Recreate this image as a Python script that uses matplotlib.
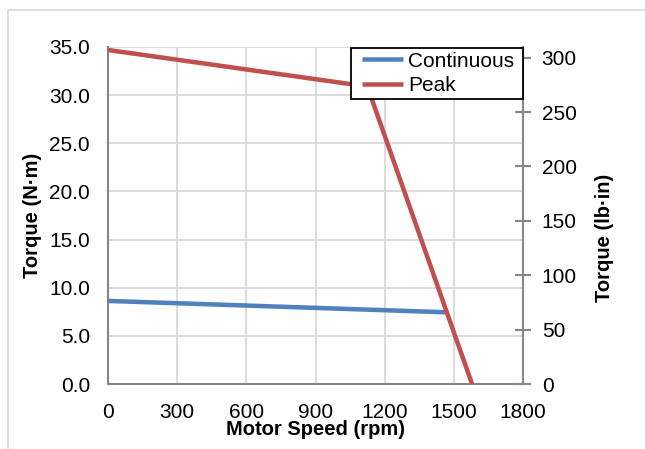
import matplotlib
matplotlib.use("Agg")
import matplotlib.pyplot as plt
from matplotlib.patches import Rectangle
from matplotlib.legend_handler import HandlerLine2D

plt.rcParams['font.family'] = ['Liberation Sans', 'DejaVu Sans']

cont_rpm = [0, 1465]
cont_torque = [8.63, 7.45]
peak_rpm = [0, 1125, 1579]
peak_torque = [34.69, 30.9, 0.0]
x_ticks = [0, 300, 600, 900, 1200, 1500, 1800]
y_ticks = [0, 5, 10, 15, 20, 25, 30, 35]
y2_ticks = [0, 50, 100, 150, 200, 250, 300]
NM_TO_LBIN = 8.8507

fig = plt.figure(figsize=(6.45, 4.49), dpi=100)
fig.patches.append(Rectangle((8/645, -0.1), 1.0, 1 - 10/449 + 0.1, transform=fig.transFigure,
                             fill=False, edgecolor='#D9D9D9', linewidth=1.2))
L, R, T, B = 108, 523, 47, 384
W, H = R - L, B - T
ax = fig.add_axes([L/645, 1 - B/449, W/645, H/449])

ax.plot(cont_rpm, cont_torque, color='#4F81BD', linewidth=3.25, label='Continuous', solid_capstyle='butt', zorder=3)
ax.plot(peak_rpm, peak_torque, color='#C0504D', linewidth=3.25, label='Peak', solid_capstyle='butt', zorder=3)

ax.set_xlim(0, 1800)
ax.set_ylim(0, 35)
ax.set_xticks(x_ticks)
ax.set_yticks(y_ticks)
ax.set_yticklabels([f"{v:.1f}" for v in y_ticks])
ax.grid(True, color='#D9D9D9', linewidth=1.3)
ax.set_axisbelow(True)
ax.tick_params(axis='both', length=0, labelsize=15)
ax.tick_params(axis='y', pad=13)
ax.tick_params(axis='x', pad=13.5)
for s in ['left', 'bottom']:
    ax.spines[s].set_color('#868686')
    ax.spines[s].set_linewidth(1.5)
ax.spines['top'].set_visible(False)
ax.spines['right'].set_visible(False)

ax.set_xlabel('Motor Speed (rpm)', fontsize=14.5, fontweight='bold')
ax.xaxis.set_label_coords(0.5, (B - 435) / H)
ax.xaxis.label.set_va('baseline')
ax.set_ylabel('Torque (N·m)', fontsize=14.5, fontweight='bold')
ax.yaxis.set_label_coords((33 - L) / W, 0.5)
ax.yaxis.label.set_va('center')

ax2 = ax.twinx()
ax2.set_ylim(0, 35 * NM_TO_LBIN)
ax2.set_yticks(y2_ticks)
ax2.tick_params(axis='y', direction='inout', length=11, width=1.5, color='#868686', labelsize=15, pad=8)
for s in ['left', 'top', 'bottom']:
    ax2.spines[s].set_visible(False)
ax2.spines['right'].set_color('#868686')
ax2.spines['right'].set_linewidth(1.5)
ax2.set_ylabel('Torque (lb·in)', fontsize=14.5, fontweight='bold')
ax2.yaxis.set_label_coords((604 - L) / W, (B - 238) / H)
ax2.yaxis.label.set_va('center')

handles, labels = ax.get_legend_handles_labels()
leg_left = (351 - L) / W
leg = ax2.legend(handles, labels, loc='upper left',
                 bbox_to_anchor=(leg_left, 0, 1 - leg_left, 1 - 1 / H), mode='expand',
                 fontsize=15, frameon=True, fancybox=False, borderaxespad=0,
                 numpoints=2, handler_map={type(handles[0]): HandlerLine2D(marker_pad=0.35)},
                 handlelength=2.66, handletextpad=-0.11, borderpad=0.18, labelspacing=0.26)
leg.get_frame().set_edgecolor('black')
leg.get_frame().set_linewidth(1.3)
leg.get_frame().set_alpha(1)
leg.set_zorder(10)

fig.savefig('out.png', dpi=100)
